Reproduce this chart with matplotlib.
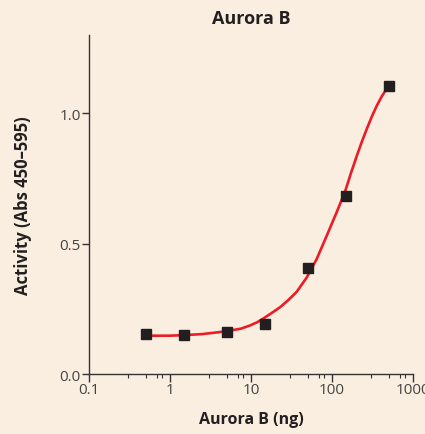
import matplotlib.pyplot as plt
from matplotlib.ticker import LogLocator, FixedLocator, NullFormatter

# measured points
amount_ng = [0.5, 1.5, 5, 15, 50, 150, 500]
activity = [0.152, 0.149, 0.162, 0.19, 0.406, 0.683, 1.105]

# fitted curve
fit_x = [0.515, 1.0, 1.46, 2.5, 5.0, 7.5, 9.7, 12.0, 14.2, 18.0, 22.8, 29.0,
         36.6, 48.7, 64.7, 86, 114, 145, 172, 202, 235, 268, 310, 356, 410, 480]
fit_y = [0.147, 0.147, 0.149, 0.153, 0.164, 0.174, 0.186, 0.199, 0.213, 0.234,
         0.256, 0.284, 0.315, 0.37, 0.441, 0.530, 0.620, 0.700, 0.772, 0.836,
         0.893, 0.939, 0.987, 1.028, 1.064, 1.097]

x_ticks = [0.1, 1, 10, 100, 1000]
x_tick_labels = ["0.1", "1", "10", "100", "1000"]
y_ticks = [0.0, 0.5, 1.0]
y_tick_labels = ["0.0", "0.5", "1.0"]

bg = "#faeee0"
ink = "#231f20"
plt.rcParams['font.family'] = ['Open Sans', 'DejaVu Sans']

fig = plt.figure(figsize=(4.25, 4.35), dpi=100, facecolor=bg)
ax = fig.add_axes([0.2094, 0.1379, 0.7624, 0.7793], facecolor=bg)

ax.plot(fit_x, fit_y, color="#ed1c24", lw=1.9, zorder=2,
        solid_capstyle='round', solid_joinstyle='round')
ax.plot(amount_ng, activity, 's', color=ink, ms=6.6, zorder=3)

ax.set_xscale('log')
ax.set_xlim(0.1, 1000)
ax.set_ylim(0, 1.3)

ax.xaxis.set_major_locator(FixedLocator(x_ticks))
ax.set_xticklabels(x_tick_labels)
ax.xaxis.set_minor_locator(LogLocator(base=10, subs=[3, 5, 7, 8]))
ax.xaxis.set_minor_formatter(NullFormatter())
ax.set_yticks(y_ticks)
ax.set_yticklabels(y_tick_labels)

for s in ['top', 'right']:
    ax.spines[s].set_visible(False)
for s in ['left', 'bottom']:
    ax.spines[s].set_color("#333333")
    ax.spines[s].set_linewidth(1.0)

ax.tick_params(axis='x', which='major', direction='out', length=6, width=1,
               color="#333333", labelsize=11, labelcolor="#444444", pad=0)
ax.tick_params(axis='x', which='minor', direction='out', length=3, width=0.8,
               color="#333333")
ax.tick_params(axis='y', which='major', direction='out', length=5, width=1,
               color="#333333", labelsize=11, labelcolor="#444444", pad=1)

ax.set_title("Aurora B", fontsize=13, fontweight='bold', color=ink, pad=9)
ax.set_xlabel("Aurora B (ng)", fontsize=11.5, fontweight='bold', color=ink, labelpad=10)
ax.set_ylabel("Activity (Abs 450\u2013595)", fontsize=12, fontweight='bold', color=ink, labelpad=20)

fig.savefig("out.png", dpi=100, facecolor=bg)
